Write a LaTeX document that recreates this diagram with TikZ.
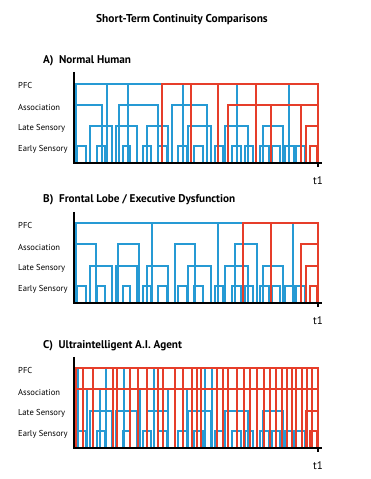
\documentclass[tikz,border=0pt]{standalone}
\usepackage{fontspec}
\setmainfont{PT Sans}
\definecolor{cb}{RGB}{38,154,212}
\definecolor{cr}{RGB}{230,62,42}
\newcommand\Brk[4]{\draw[#1] (#2,0) -- (#2,#4) -- (#3,#4) -- (#3,0);}
\newcommand\Vt[3]{\draw[#1] (#2,0) -- (#2,#3);}
\newcommand\Sensory{%
  \foreach \a/\b in {90/112,116/137,147/168,188/211,225/248,263/283}{\Brk{bl}{\a}{\b}{37}}
  \foreach \a/\b in {77/86,97/105,123/130,143/151,158/167,178/187,194/203,215/223,232/241,245/253,260/269,272/280,285/294,296/305}{\Brk{bl}{\a}{\b}{17}}
  \Brk{rd}{306}{318}{37}
  \Brk{rd}{310}{317}{17}}
\newcommand\Frame[1]{%
  \draw[axis] (74,91) -- (74,0) -- (322,0);
  \draw[axis] (318,0) -- (318,-4);
  \node[tl] (t#1) at (318,-18) {t1};
  \node[lvl] (pfc#1) at (18,78) {PFC};
  \node[lvl] (asc#1) at (18,56) {Association};
  \node[lvl] (lat#1) at (18,35) {Late Sensory};
  \node[lvl] (ear#1) at (18,14) {Early Sensory};}
\begin{document}
\begin{tikzpicture}[x=1pt,y=1pt,
  bl/.style={cb,line width=1.05pt},
  rd/.style={cr,line width=1.05pt},
  axis/.style={black,line width=1.4pt},
  lvl/.style={anchor=west,inner sep=0pt,font=\fontsize{8.6}{10}\selectfont},
  tl/.style={inner sep=0pt,font=\fontsize{11}{12}\selectfont},
  ptitle/.style={anchor=west,inner sep=0pt,font=\bfseries\fontsize{11.2}{13}\selectfont},
  mtitle/.style={inner sep=0pt,font=\bfseries\fontsize{11.4}{13}\selectfont}]
\useasboundingbox[fill=white] (0,0) rectangle (370,479);
\node[mtitle] (title) at (182,459) {Short-Term Continuity Comparisons};
\node[ptitle] (ta) at (43,418) {A)\enspace Normal Human};
\node[ptitle] (tb) at (43,279) {B)\enspace Frontal Lobe / Executive Dysfunction};
\node[ptitle] (tc) at (43,133) {C)\enspace Ultraintelligent A.I. Agent};
% Panel A
\begin{scope}[yshift=316pt]
  \Sensory
  \foreach \a/\b in {76/102,119/158,172/207}{\Brk{bl}{\a}{\b}{58}}
  \draw[bl] (76,0) -- (76,79) -- (162,79);
  \foreach \x in {107,128,183,237,289}{\Vt{bl}{\x}{79}}
  \draw[rd] (162,0) -- (162,79) -- (318,79) -- (318,0);
  \foreach \x in {191,218,256}{\Vt{rd}{\x}{79}}
  \draw[rd] (228,0) -- (228,58) -- (318,58);
  \foreach \x in {271,301}{\Vt{rd}{\x}{58}}
  \Frame{A}
\end{scope}
% Panel B
\begin{scope}[yshift=176pt]
  \Sensory
  \foreach \a/\b in {76/96,118/139,175/195,235/257}{\Brk{bl}{\a}{\b}{59}}
  \draw[bl] (76,0) -- (76,80) -- (243,80);
  \foreach \x in {152,218,293}{\Vt{bl}{\x}{80}}
  \draw[rd] (243,0) -- (243,80) -- (318,80) -- (318,0);
  \Vt{rd}{271}{80}
  \draw[rd] (301,0) -- (301,59) -- (318,59);
  \Frame{B}
\end{scope}
% Panel C
\begin{scope}[yshift=31pt]
  \Sensory
  \foreach \x in {78,106,124,154,205,212}{\Vt{bl}{\x}{80}}
  \foreach \x in {87,100,140,168,187}{\Vt{bl}{\x}{59}}
  \draw[rd] (76,0) -- (76,80) -- (318,80) -- (318,0);
  \draw[rd] (76,59) -- (318,59);
  \foreach \x in {83,93,113,117,130,138,147,158,163,175,183,192,197,201,217,223,228,237,244,250,257,264,270,276,282,287,292,296,302,307,312}{\Vt{rd}{\x}{80}}
  \Frame{C}
\end{scope}
\end{tikzpicture}
\end{document}
